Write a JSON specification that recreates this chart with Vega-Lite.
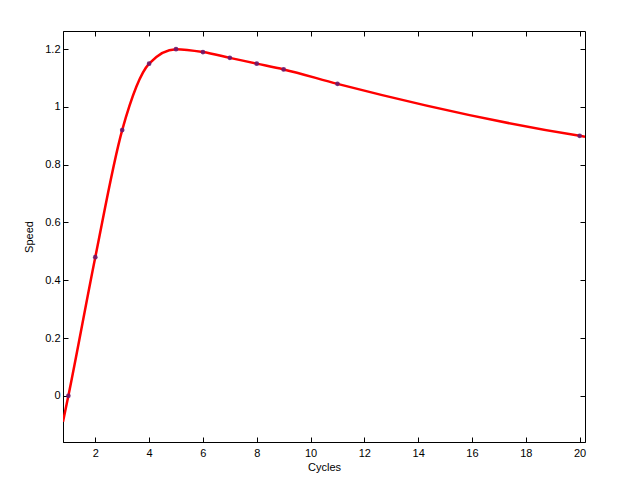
{
  "$schema": "https://vega.github.io/schema/vega-lite/v6.json",
  "width": 522,
  "height": 411,
  "autosize": {"type": "none"},
  "padding": {"left": 63, "top": 31, "right": 33, "bottom": 50},
  "background": "white",
  "config": {
    "view": {"stroke": "black", "strokeWidth": 1},
    "font": "Liberation Sans",
    "axis": {
      "grid": false,
      "domainColor": "black",
      "tickColor": "black",
      "tickSize": -5,
      "labelFont": "Liberation Sans",
      "labelFontSize": 11,
      "labelColor": "black",
      "titleFont": "Liberation Sans",
      "titleFontSize": 11,
      "titleFontWeight": "normal",
      "titleColor": "black"
    }
  },
  "data": {
    "values": [
      {"cycles": 0.8, "speed": -0.09, "measured": false},
      {"cycles": 1, "speed": 0.0, "measured": true},
      {"cycles": 2, "speed": 0.48, "measured": true},
      {"cycles": 3, "speed": 0.92, "measured": true},
      {"cycles": 4, "speed": 1.15, "measured": true},
      {"cycles": 5, "speed": 1.2, "measured": true},
      {"cycles": 6, "speed": 1.19, "measured": true},
      {"cycles": 7, "speed": 1.17, "measured": true},
      {"cycles": 8, "speed": 1.15, "measured": true},
      {"cycles": 9, "speed": 1.13, "measured": true},
      {"cycles": 11, "speed": 1.08, "measured": true},
      {"cycles": 20, "speed": 0.9, "measured": true},
      {"cycles": 20.2, "speed": 0.897, "measured": false}
    ]
  },
  "encoding": {
    "x": {
      "field": "cycles",
      "type": "quantitative",
      "scale": {"domain": [0.8, 20.2], "nice": false, "zero": false},
      "axis": {"title": "Cycles", "values": [2, 4, 6, 8, 10, 12, 14, 16, 18, 20], "labelPadding": 10, "titlePadding": 3}
    },
    "y": {
      "field": "speed",
      "type": "quantitative",
      "scale": {"domain": [-0.16, 1.263], "nice": false, "zero": false},
      "axis": {"title": "Speed", "values": [0, 0.2, 0.4, 0.6, 0.8, 1, 1.2], "format": "~g", "labelPadding": 8, "titlePadding": 10}
    }
  },
  "layer": [
    {
      "mark": {"type": "line", "color": "#ff0000", "strokeWidth": 2.5, "interpolate": "monotone", "clip": true}
    },
    {
      "transform": [{"filter": "datum.measured"}],
      "mark": {"type": "point", "shape": "circle", "filled": true, "color": "#6a1b6e", "opacity": 0.9, "size": 22, "clip": true},
      "encoding": {
        "x": {
          "field": "cycles",
          "type": "quantitative",
          "axis": {"title": null, "labels": false, "values": [2, 4, 6, 8, 10, 12, 14, 16, 18, 20], "domain": false}
        },
        "y": {
          "field": "speed",
          "type": "quantitative",
          "axis": {"title": null, "labels": false, "values": [0, 0.2, 0.4, 0.6, 0.8, 1, 1.2], "domain": false}
        }
      }
    }
  ],
  "resolve": {"axis": {"x": "independent", "y": "independent"}}
}
